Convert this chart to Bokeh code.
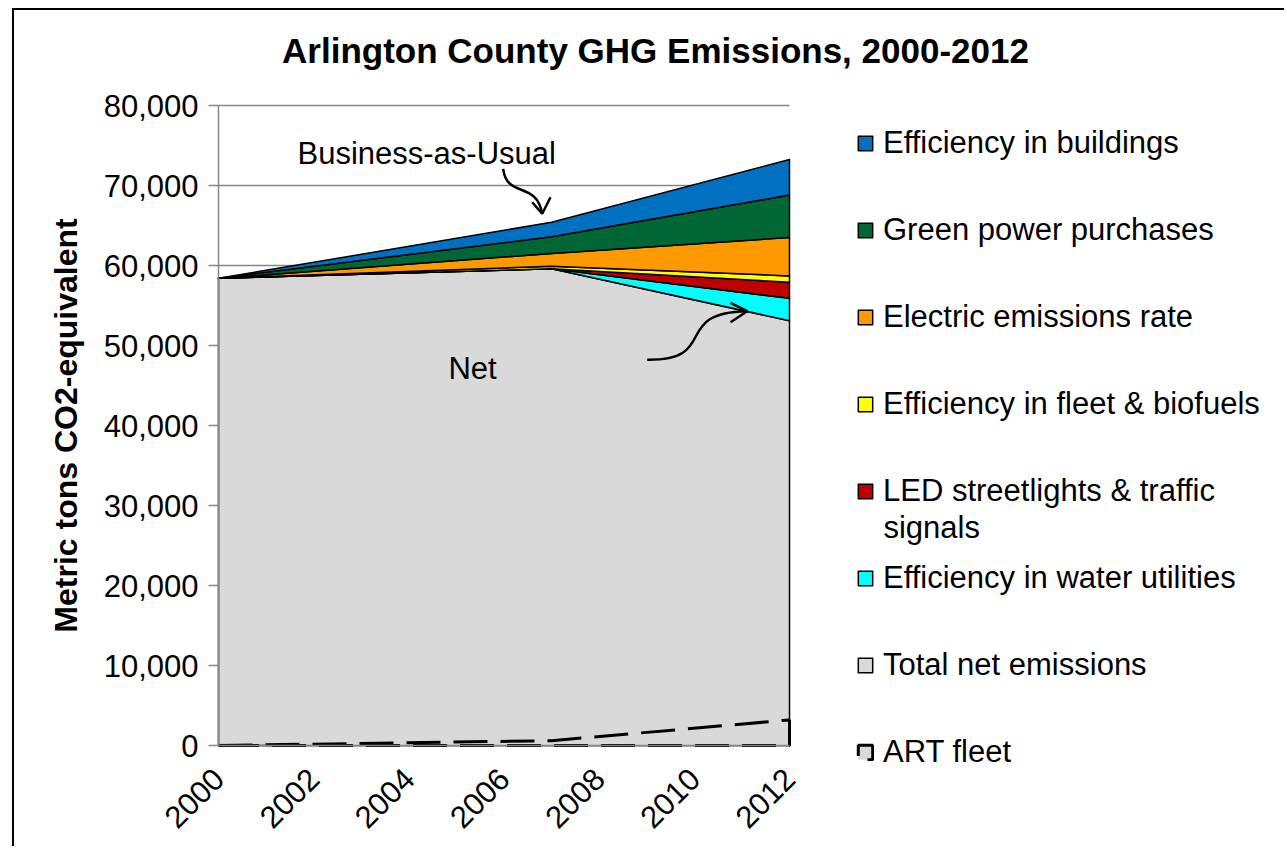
import math
from bokeh.plotting import figure
from bokeh.models import Legend, LegendItem, Label, NumeralTickFormatter, FixedTicker, Range1d
from bokeh.embed import file_html
from bokeh.resources import INLINE

# ---------------- data (metric tons CO2e) ----------------
years = [2000, 2007, 2012]
net_emissions = [58400, 59600, 53100]
water_utilities = [0, 0, 2800]
led_streetlights = [0, 0, 2000]
fleet_biofuels = [0, 300, 800]
electric_rate = [0, 1600, 4800]
green_power = [0, 2100, 5300]
buildings_eff = [0, 1800, 4450]
art_fleet = [0, 600, 3200]

layer_names = ["Total net emissions", "Efficiency in water utilities",
               "LED streetlights & traffic", "Efficiency in fleet & biofuels",
               "Electric emissions rate", "Green power purchases",
               "Efficiency in buildings"]
layer_values = [net_emissions, water_utilities, led_streetlights, fleet_biofuels,
                electric_rate, green_power, buildings_eff]
layer_colors = ["#D9D9D9", "#00FFFF", "#C00000", "#FFFF00",
                "#FF9900", "#006633", "#0070C0"]

y_ticks = [0, 10000, 20000, 30000, 40000, 50000, 60000, 70000, 80000]
x_ticks = [2000, 2002, 2004, 2006, 2008, 2010, 2012]

FONT = "Liberation Sans"
X0, X1 = 2000, 2012
Y0, Y1 = 0, 80000

# frame covers the whole canvas so that legend, title and tick labels are
# not clipped; scale: 571 px per 12 years, 640 px per 80,000 t
p = figure(frame_width=1270, frame_height=826,
           min_border_left=0, min_border_right=0,
           min_border_top=0, min_border_bottom=10,
           x_range=Range1d(2000 - 204 * 12 / 571, 2000 + 1066 * 12 / 571),
           y_range=Range1d(-91 * 125, 735 * 125),
           output_backend="svg", toolbar_location=None, title=None)
p.styles = {"border-left": "2px solid black", "border-top": "2px solid black",
            "margin-left": "12px", "margin-top": "8px"}
p.outline_line_color = None
p.background_fill_color = "white"
p.border_fill_color = "white"

# grid (limited to the data area)
p.xgrid.visible = False
p.ygrid.visible = False
p.segment(x0=[X0] * len(y_ticks), y0=y_ticks, x1=[X1] * len(y_ticks), y1=y_ticks,
          line_color="#868686", line_width=1.5, level="underlay")

# stacked areas (outlined polygons)
lower = [0] * len(years)
renderers = {}
for name, vals, col in zip(layer_names, layer_values, layer_colors):
    upper = [a + b for a, b in zip(lower, vals)]
    renderers[name] = p.patch(x=years + years[::-1], y=upper + lower[::-1],
                              fill_color=col, line_color="black", line_width=1.5,
                              line_join="round")
    lower = upper

# ART fleet (dashed outline area)
art_r = p.patch(x=years + years[::-1], y=art_fleet + [0] * len(years),
                fill_color="#D9D9D9", line_color="black", line_width=3,
                line_dash="34 13")

legend_order = ["Efficiency in buildings", "Green power purchases",
                "Electric emissions rate", "Efficiency in fleet & biofuels",
                "LED streetlights & traffic", "Efficiency in water utilities",
                "Total net emissions"]
items = [LegendItem(label=n, renderers=[renderers[n]]) for n in legend_order]
items.append(LegendItem(label="ART fleet", renderers=[art_r]))
legend = Legend(items=items, location=(842, 64), orientation="vertical",
                glyph_width=18, glyph_height=18, label_standoff=9,
                label_height=40, spacing=47, padding=0, margin=0,
                border_line_color=None, background_fill_alpha=0,
                label_text_font=FONT, label_text_font_size="31px",
                label_text_color="black")
p.add_layout(legend)

p.add_layout(Label(x=2013.975, y=27250, text="signals", text_font=FONT,
                   text_font_size="31px", text_color="black",
                   text_baseline="middle", text_align="left"))

# title
p.add_layout(Label(x=2009.184, y=86875, text="Arlington County GHG Emissions, 2000-2012",
                   text_font=FONT, text_font_size="35px",
                   text_font_style="bold", text_color="black",
                   text_align="center", text_baseline="middle"))

# annotations
p.add_layout(Label(x=2001.66, y=74000, text="Business-as-Usual", text_font=FONT,
                   text_font_size="31px", text_color="black",
                   text_align="left", text_baseline="middle"))
p.add_layout(Label(x=2005.338, y=47125, text="Net", text_font=FONT,
                   text_font_size="31px", text_color="black",
                   text_align="center", text_baseline="middle"))

p.bezier(x0=[2005.983, 2009.010], y0=[72088, 48213],
         x1=[2006.803, 2011.111], y1=[66463, 54288],
         cx0=[2006.053, 2010.550], cy0=[68375, 48125],
         cx1=[2006.683, 2009.499], cy1=[70625, 54125],
         line_color="black", line_width=2.5)
p.multi_line(xs=[[2006.593, 2006.803, 2006.977], [2010.760, 2011.111, 2010.760]],
             ys=[[67913, 66463, 68538], [55338, 54288, 52913]],
             line_color="black", line_width=2.5)

# axes
p.yaxis.ticker = FixedTicker(ticks=y_ticks)
p.yaxis.bounds = (Y0, Y1)
p.yaxis.fixed_location = X0
p.yaxis.formatter = NumeralTickFormatter(format="0,0")
p.yaxis.axis_label = "Metric tons CO2-equivalent"
p.yaxis.axis_label_text_font = FONT
p.yaxis.axis_label_text_font_size = "32px"
p.yaxis.axis_label_text_font_style = "bold"
p.yaxis.axis_label_text_color = "black"
p.yaxis.axis_label_standoff = 17
p.yaxis.major_tick_out = 10
p.yaxis.major_tick_in = 0
p.yaxis.minor_tick_out = 0
p.yaxis.minor_tick_in = 0
p.yaxis.major_label_standoff = 10

p.xaxis.ticker = FixedTicker(ticks=x_ticks)
p.xaxis.bounds = (X0, X1)
p.xaxis.fixed_location = Y0
p.xaxis.major_label_orientation = math.pi / 4
p.xaxis.major_tick_out = 0
p.xaxis.major_tick_in = 0
p.xaxis.minor_tick_out = 0
p.xaxis.minor_tick_in = 0
p.xaxis.major_label_standoff = 28

for ax in (p.xaxis, p.yaxis):
    ax.axis_line_color = "#868686"
    ax.axis_line_width = 1.5
    ax.major_tick_line_color = "#868686"
    ax.major_tick_line_width = 1.5
    ax.major_label_text_font = FONT
    ax.major_label_text_font_size = "31px"
    ax.major_label_text_color = "black"

open("out.html", "w").write(file_html(p, INLINE))
